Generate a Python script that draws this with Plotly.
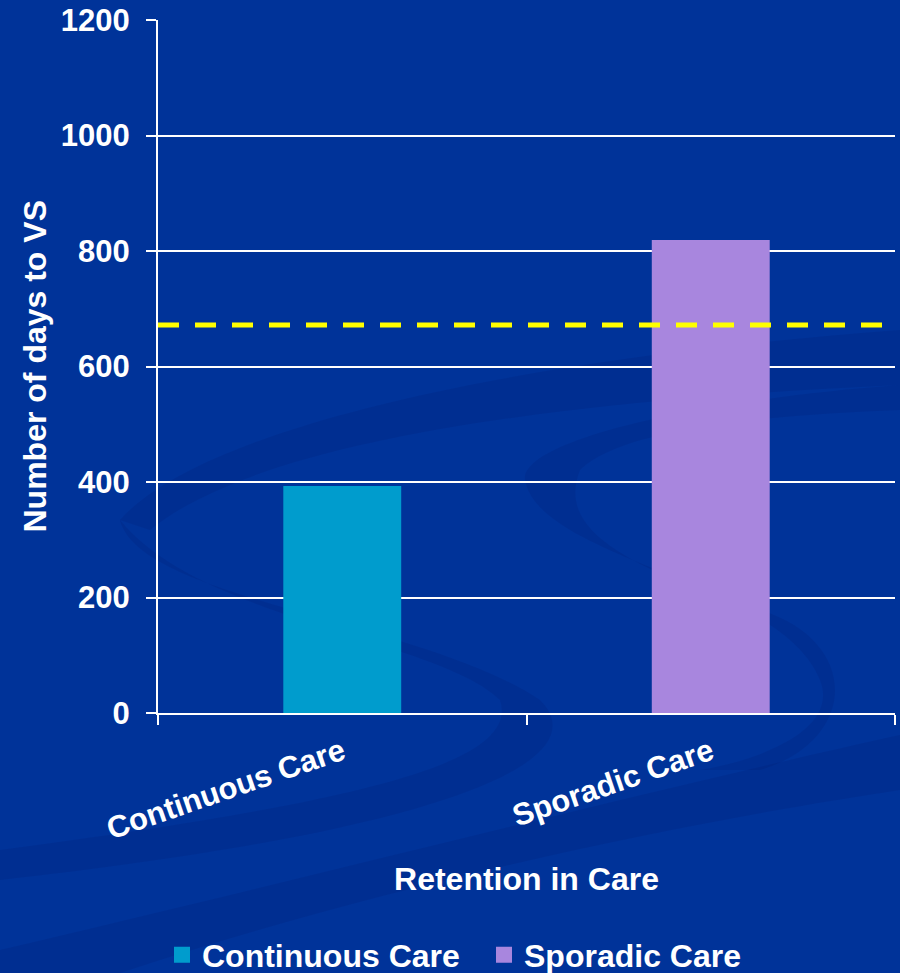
import plotly.graph_objects as go

categories = ["Continuous Care", "Sporadic Care"]
days_to_vs = [393, 819]
bar_colors = ["#009CCD", "#A886DE"]
threshold = 672
y_ticks = [0, 200, 400, 600, 800, 1000, 1200]

FONT = "Liberation Sans, Arial, sans-serif"
BG = "#003399"

W, H = 900, 973
L, R, T, B = 158, 5, 20, 260
PW, PH = W - L - R, H - T - B


def px_path(cmds):
    out = []
    for c in cmds:
        if isinstance(c, str):
            out.append(c)
        else:
            x, y = c
            out.append(f"{(x - L) / PW:.4f},{(H - B - y) / PH:.4f}")
    return " ".join(out)


swoosh = "rgba(0,30,110,0.18)"
shapes = [
    dict(type="path", xref="paper", yref="paper", layer="below", line=dict(width=0), fillcolor=swoosh,
         path=px_path(["M", (120, 520), "C", (200, 430), (500, 360), (900, 330), "L", (900, 385),
                       "C", (560, 400), (260, 440), (150, 530), "Z"])),
    dict(type="path", xref="paper", yref="paper", layer="below", line=dict(width=0), fillcolor=swoosh,
         path=px_path(["M", (120, 520), "C", (140, 600), (420, 620), (540, 700),
                       "C", (600, 760), (450, 830), (0, 880), "L", (0, 850),
                       "C", (380, 800), (520, 760), (500, 700),
                       "C", (440, 640), (200, 620), (120, 520), "Z"])),
    dict(type="path", xref="paper", yref="paper", layer="below", line=dict(width=0), fillcolor=swoosh,
         path=px_path(["M", (900, 385), "C", (700, 400), (520, 440), (525, 480),
                       "C", (540, 560), (780, 580), (820, 680),
                       "C", (840, 730), (760, 760), (700, 770), "L", (760, 770),
                       "C", (860, 740), (860, 640), (760, 610),
                       "C", (600, 560), (560, 520), (580, 470),
                       "C", (620, 430), (760, 415), (900, 410), "Z"])),
    dict(type="path", xref="paper", yref="paper", layer="below", line=dict(width=0), fillcolor=swoosh,
         path=px_path(["M", (0, 973), "L", (120, 973), "C", (400, 880), (700, 820), (900, 790),
                       "L", (900, 735), "C", (650, 790), (300, 880), (0, 950), "Z"])),
    dict(type="line", xref="paper", yref="y", x0=0, x1=0.99, y0=threshold, y1=threshold,
         line=dict(color="#FFFF00", width=5, dash="21px,16px"), layer="above"),
]

fig = go.Figure()
for cat, val, col in zip(categories, days_to_vs, bar_colors):
    fig.add_trace(go.Bar(
        x=[cat], y=[val], name=cat, marker=dict(color=col, line=dict(width=0)),
        width=0.32, offset=-0.16, showlegend=False,
    ))
# legend entries (square swatches), one legend each so they can be placed like the reference
legend_ids = ["legend", "legend2"]
for cat, col, lid in zip(categories, bar_colors, legend_ids):
    fig.add_trace(go.Scatter(
        x=[None], y=[None], mode="markers", name=f"<b>{cat}</b>",
        marker=dict(symbol="square", size=16, color=col, line=dict(width=0)),
        showlegend=True, legend=lid,
    ))

legend_style = dict(orientation="h", xanchor="left", xref="container",
                    y=(H - B - 955) / PH, yanchor="middle", yref="paper",
                    font=dict(size=32, family=FONT, color="white"),
                    itemwidth=30, itemsizing="trace", bgcolor="rgba(0,0,0,0)")

fig.update_layout(
    width=W, height=H,
    margin=dict(l=L, r=R, t=T, b=B, autoexpand=False),
    paper_bgcolor=BG, plot_bgcolor="rgba(0,0,0,0)",
    font=dict(family=FONT, color="white", size=31),
    barmode="overlay",
    showlegend=True,
    legend=dict(x=162 / W, **legend_style),
    legend2=dict(x=484 / W, **legend_style),
    shapes=shapes,
    annotations=[dict(
        text="<b>Number of days to VS</b>", textangle=-90,
        xref="paper", yref="paper", x=(34 - L) / PW, y=0.5,
        xanchor="center", yanchor="middle", showarrow=False,
        font=dict(size=32, family=FONT, color="white"),
    )],
    xaxis=dict(
        categoryorder="array", categoryarray=categories,
        tickvals=categories, ticktext=[f"<b>{c}</b>" for c in categories],
        tickangle=-19, tickfont=dict(size=31, family=FONT, color="white"),
        ticks="outside", tickson="boundaries", ticklen=10, tickcolor="white", tickwidth=2,
        ticklabelstandoff=7,
        showline=True, linecolor="white", linewidth=2,
        showgrid=False,
        title=dict(text="<b>Retention in Care</b>", font=dict(size=32, family=FONT, color="white"), standoff=22),
    ),
    yaxis=dict(
        range=[0, 1200], tickvals=y_ticks, ticktext=[f"<b>{v}</b>" for v in y_ticks],
        tickfont=dict(size=31, family=FONT, color="white"),
        ticks="outside", ticklen=10, tickcolor="white", tickwidth=2, ticklabelstandoff=10,
        showline=True, linecolor="white", linewidth=2,
        showgrid=True, gridcolor="white", gridwidth=2,
        zeroline=False,
    ),
)

fig.write_html(
    "out.html",
    config={"displayModeBar": False},
    post_script="document.body.style.margin='0';document.body.style.padding='0';document.body.style.background='#003399';",
)
